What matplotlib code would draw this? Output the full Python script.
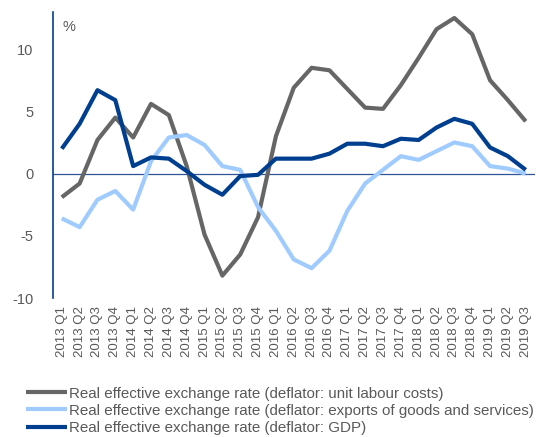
import matplotlib
matplotlib.use("Agg")
import matplotlib.pyplot as plt

plt.rcParams['font.family'] = ['Liberation Sans', 'DejaVu Sans']
plt.rcParams['axes.unicode_minus'] = False

quarters = [f"{y} Q{q}" for y in range(2013, 2020) for q in range(1, 5)][:27]

ulc = [-1.9, -0.8, 2.7, 4.5, 2.9, 5.6, 4.7, 0.6, -4.9, -8.2, -6.5, -3.5,
       3.0, 6.9, 8.5, 8.3, 6.8, 5.3, 5.2, 7.1, 9.3, 11.6, 12.5, 11.2,
       7.5, 5.9, 4.2]
exports = [-3.6, -4.3, -2.1, -1.4, -2.9, 1.0, 2.9, 3.1, 2.3, 0.6, 0.3, -2.7,
           -4.6, -6.9, -7.6, -6.2, -3.0, -0.8, 0.3, 1.4, 1.1, 1.8, 2.5, 2.2,
           0.6, 0.4, 0.0]
gdp = [2.0, 4.0, 6.7, 5.9, 0.6, 1.3, 1.2, 0.2, -0.9, -1.7, -0.2, -0.1,
       1.2, 1.2, 1.2, 1.6, 2.4, 2.4, 2.2, 2.8, 2.7, 3.7, 4.4, 4.0,
       2.1, 1.4, 0.3]

labels = ["Real effective exchange rate (deflator: unit labour costs)",
          "Real effective exchange rate (deflator: exports of goods and services)",
          "Real effective exchange rate (deflator: GDP)"]
colors = ["#666666", "#9fcbff", "#003f8f"]

fig = plt.figure(figsize=(5.45, 4.37), dpi=100)
ax = fig.add_axes([0.097, 0.318, 0.884, 0.655])

x = range(len(quarters))
for vals, lab, col in zip([ulc, exports, gdp], labels, colors):
    ax.plot(x, vals, color=col, lw=3, label=lab, solid_capstyle='butt')

ax.axhline(0, color="#2f5597", lw=0.9, zorder=0)
ax.set_xlim(-0.5, 26.5)
ax.set_ylim(-10, 13)
ax.set_yticks([-10, -5, 0, 5, 10])
ax.set_xticks(list(x))
ax.set_xticklabels(quarters, rotation=90, fontsize=9.5, color="#595959")
ax.tick_params(axis='y', length=0, labelsize=10.5, labelcolor="#595959", pad=14)
ax.tick_params(axis='x', length=0, pad=6)
for s in ['top', 'right', 'bottom']:
    ax.spines[s].set_visible(False)
ax.spines['left'].set_color("#003f8f")
ax.spines['left'].set_linewidth(1.2)
ax.text(0.02, 0.97, "%", transform=ax.transAxes, ha='left', va='top',
        fontsize=10.5, color="#595959")

fig.legend(loc='upper left', bbox_to_anchor=(0.048, 0.115), frameon=False,
           fontsize=10.9, handlelength=2.7, handletextpad=0.1, borderpad=0,
           borderaxespad=0, labelspacing=0.2, labelcolor="#595959")

fig.savefig("out.png", dpi=100)
